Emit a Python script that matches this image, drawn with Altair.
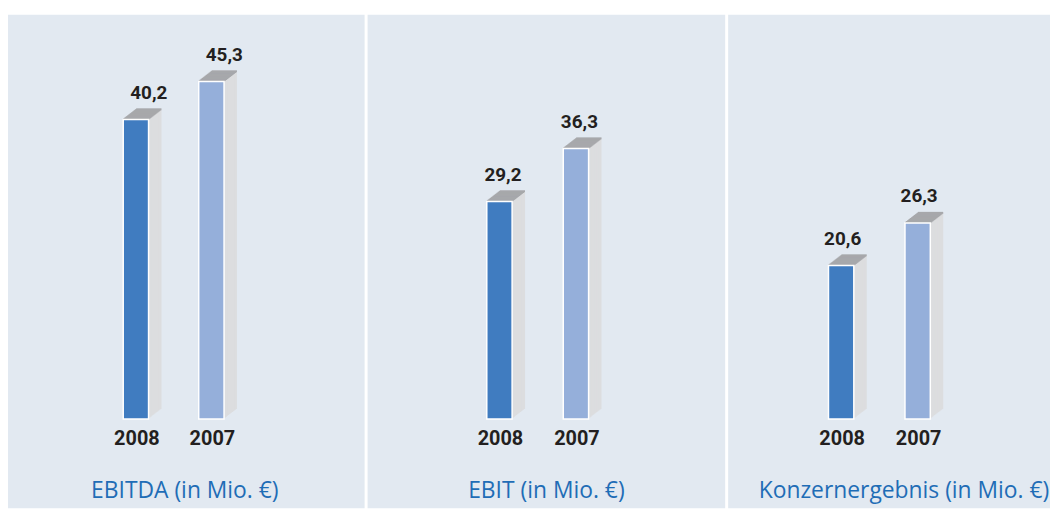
import altair as alt
import pandas as pd

years = ["2008", "2007"]
ebitda = [40.2, 45.3]
ebit = [29.2, 36.3]
konzern = [20.6, 26.3]
titles = ["EBITDA (in Mio. €)", "EBIT (in Mio. €)", "Konzernergebnis (in Mio. €)"]

BG = "#e2e9f1"
C08 = "#407cc0"
C07 = "#95afda"
SIDE = "#dcdddf"
TOP = "#a7a8ab"
TXT = "#231f20"
BLUE = "#1f6db6"
NUM_FONT = "Roboto, Liberation Sans, sans-serif"
TITLE_FONT = "Open Sans, sans-serif"

H = 497
BASE_PX = 407      # pixel distance from plot top to the zero line
PX_PER_UNIT = 7.5
YDOM = [-(H - BASE_PX) / PX_PER_UNIT, BASE_PX / PX_PER_UNIT]
DEPTH_X = 13
DEPTH_Y = 10


def panel(vals, title, W, xr, pi, dx, tx):
    df = pd.DataFrame({"year": years, "v": vals})
    base = alt.Chart(df).transform_calculate(
        label="replace(format(datum.v, '.1f'), '.', ',')"
    )
    xs = alt.X("year:N", sort=years, axis=None,
               scale=alt.Scale(range=xr, paddingInner=pi, paddingOuter=0, round=False))
    ys = alt.Y("v:Q", axis=None, scale=alt.Scale(domain=YDOM, nice=False))
    layers = []
    for k in range(DEPTH_X, 0, -1):
        oy = -k * DEPTH_Y / DEPTH_X
        layers.append(
            base.mark_bar(color=SIDE, xOffset=k, x2Offset=k, yOffset=oy, y2Offset=oy)
            .encode(x=xs, y=ys, y2=alt.datum(0))
        )
    for k in range(0, DEPTH_X + 1):
        oy = -k * DEPTH_Y / DEPTH_X
        layers.append(
            base.mark_bar(color=TOP, xOffset=k, x2Offset=k, yOffset=oy - 1.2, y2Offset=oy + 0.8)
            .encode(x=xs, y=ys, y2=alt.Y2("v:Q"))
        )
    layers.append(
        base.mark_bar(stroke="white", strokeWidth=1.5).encode(
            x=xs, y=ys, y2=alt.datum(0),
            color=alt.Color("year:N", scale=alt.Scale(domain=years, range=[C08, C07]), legend=None),
        )
    )
    layers.append(
        base.mark_text(font=NUM_FONT, fontSize=19, fontWeight="bold", color=TXT,
                       dx=dx, dy=-21, baseline="alphabetic")
        .encode(x=xs, y=ys, text="label:N")
    )
    layers.append(
        base.mark_text(font=NUM_FONT, fontSize=20, fontWeight="bold", color=TXT,
                       dx=1, dy=26, baseline="alphabetic")
        .encode(x=xs, y=alt.datum(0), text="year:N")
    )
    layers.append(
        alt.Chart(pd.DataFrame({"t": [title]})).mark_text(
            font=TITLE_FONT, fontSize=23, color=BLUE, baseline="middle"
        ).encode(x=alt.value(tx), y=alt.value(480), text="t:N")
    )
    return alt.layer(*layers).properties(width=W, height=H)


p1 = panel(ebitda, titles[0], 359, [116, 217.5], 0.6645, 13, 178)
p2 = panel(ebit, titles[1], 360, [120, 222.5], 0.6688, 3.5, 180)
p3 = panel(konzern, titles[2], 324, [101, 203.5], 0.6688, 1.5, 177)

chart = (
    alt.hconcat(p1, p2, p3, spacing=3)
    .resolve_scale(x="independent")
    .properties(padding={"left": 0, "top": 5, "right": 0, "bottom": 0}, background="white")
    .configure_view(fill=BG, strokeWidth=0)
)

chart.save("out.html", embed_options={"renderer": "svg", "actions": False})
